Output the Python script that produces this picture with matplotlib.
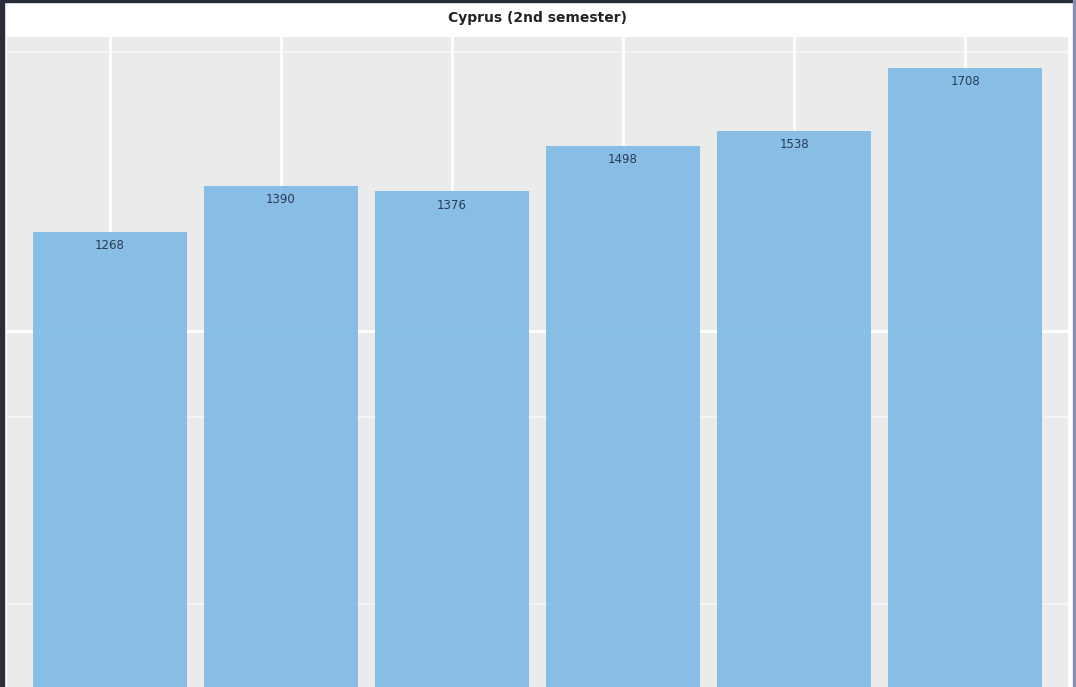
import matplotlib
matplotlib.use("Agg")
import matplotlib.pyplot as plt
from matplotlib.patches import Rectangle

title = "Cyprus (2nd semester)"
categories = ["2015", "2016", "2017", "2018", "2019", "2020"]
values = [1268, 1390, 1376, 1498, 1538, 1708]
labels = ["1268", "1390", "1376", "1498", "1538", "1708"]
major_y = [1000]
minor_y = [270, 770, 1750]

fig = plt.figure(figsize=(10.76, 6.87), dpi=100)
fig.patch.set_facecolor("white")
ax = fig.add_axes([7 / 1076, 0, 1061 / 1076, 650 / 687])
ax.set_facecolor("#EBEBEB")

x = list(range(len(categories)))
ax.set_xlim(-0.6, len(categories) - 0.4)
ax.set_ylim(46, 1790)

for v in major_y:
    ax.axhline(v, color="white", lw=2.2, zorder=1)
for v in minor_y:
    ax.axhline(v, color="#F7F7F7", lw=1.2, zorder=1)
for xi in x:
    ax.axvline(xi, color="white", lw=2.0, zorder=1)

ax.bar(x, values, width=0.9, color="#82BCE5", alpha=0.94, zorder=2)
for xi, v, lab in zip(x, values, labels):
    ax.annotate(lab, (xi, v), xytext=(0, -10), textcoords="offset points",
                ha="center", va="center", fontsize=8.5, color="#2B3A55", zorder=3)

for s in ax.spines.values():
    s.set_visible(False)
ax.set_xticks([])
ax.set_yticks([])

fig.text(537 / 1076, 1 - 18 / 687, title, ha="center", va="center",
         fontsize=10, fontweight="bold", color="#222222")

# dark video frame edges
fig.patches.append(Rectangle((0, 0), 4 / 1076, 1, transform=fig.transFigure,
                             color="#2A2D3A", zorder=10))
fig.patches.append(Rectangle((0, 1 - 2 / 687), 1, 2 / 687, transform=fig.transFigure,
                             color="#2A2D3A", zorder=10))
fig.patches.append(Rectangle((1 - 3 / 1076, 0), 2 / 1076, 1, transform=fig.transFigure,
                             color="#8A8EA8", zorder=10))

fig.savefig("out.png", dpi=100)
